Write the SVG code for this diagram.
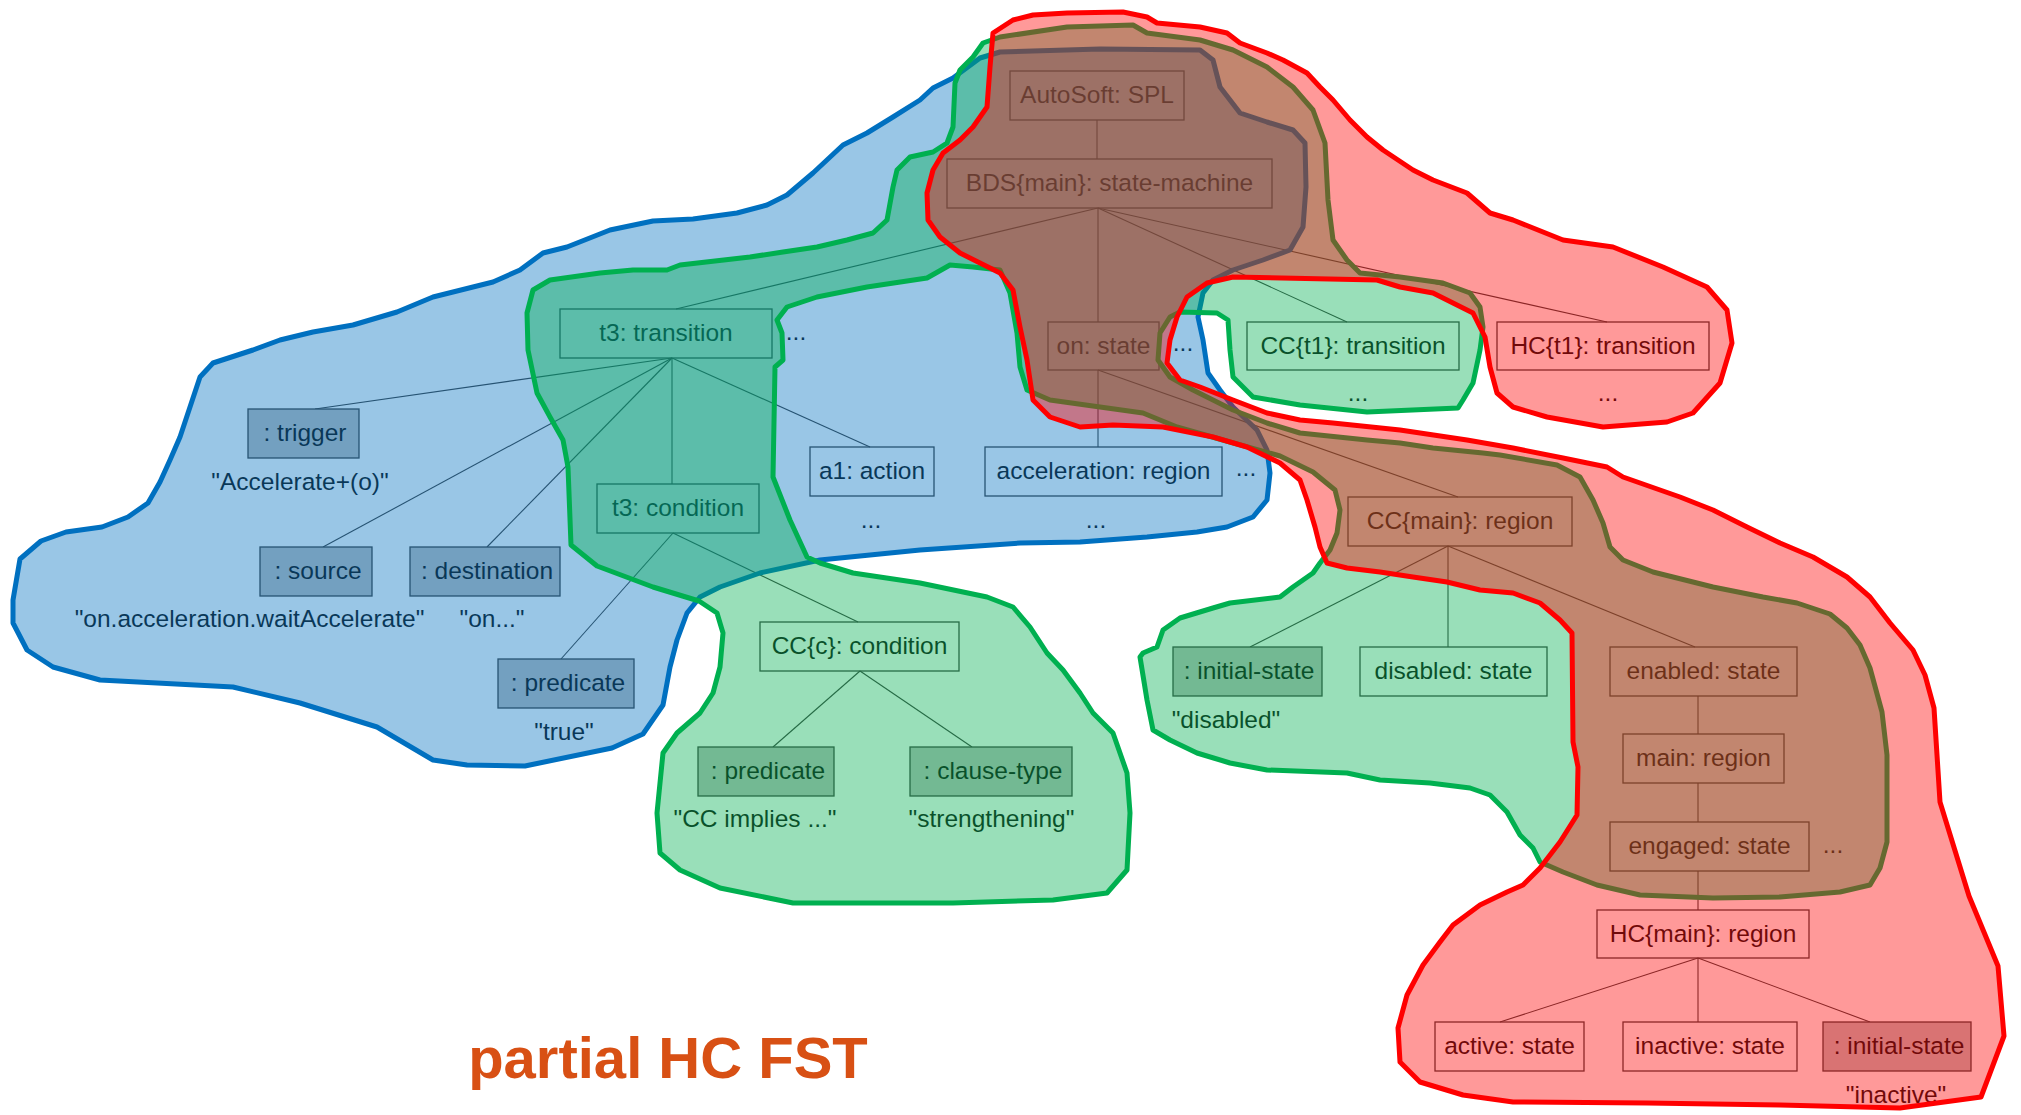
<svg xmlns="http://www.w3.org/2000/svg" width="2021" height="1115" viewBox="0 0 2021 1115">
  <style>
    .box { fill: none; stroke: #404040; stroke-width: 1.3; }
    .attr { fill: #c0c0c0; stroke: #404040; stroke-width: 1.3; }
    .t { font-family: "Liberation Sans", Arial, sans-serif; font-size: 24.5px; fill: #111; text-anchor: middle; }
    .edge { stroke: #404040; stroke-width: 1.1; fill: none; }
    .blob { fill-opacity: 0.4; stroke-width: 5; stroke-linejoin: round; stroke-linecap: round; }
    .blue { fill: #0070c0; stroke: #0070c0; }
    .green { fill: #00b050; stroke: #00b050; }
    .red { fill: #ff0000; stroke: #ff0000; }
    .title { font-family: "Liberation Sans", Arial, sans-serif; font-size: 58px; font-weight: bold; fill: #d85014; text-anchor: middle; }
  </style>

  <rect width="2021" height="1115" fill="#ffffff"/>

  <!-- tree edges -->
  <g id="connectors">
    <line class="edge" x1="1097" y1="120" x2="1097" y2="159"/>
    <line class="edge" x1="1098" y1="208" x2="676" y2="309"/>
    <line class="edge" x1="1098" y1="208" x2="1098" y2="322"/>
    <line class="edge" x1="1098" y1="208" x2="1347" y2="322"/>
    <line class="edge" x1="1098" y1="208" x2="1607" y2="322"/>
    <line class="edge" x1="672" y1="358" x2="315" y2="409"/>
    <line class="edge" x1="672" y1="358" x2="323" y2="547"/>
    <line class="edge" x1="672" y1="358" x2="487" y2="547"/>
    <line class="edge" x1="672" y1="358" x2="672" y2="484"/>
    <line class="edge" x1="672" y1="358" x2="870" y2="447"/>
    <line class="edge" x1="673" y1="533" x2="561" y2="659"/>
    <line class="edge" x1="673" y1="533" x2="858" y2="622"/>
    <line class="edge" x1="860" y1="671" x2="773" y2="747"/>
    <line class="edge" x1="860" y1="671" x2="972" y2="747"/>
    <line class="edge" x1="1098" y1="370" x2="1098" y2="447"/>
    <line class="edge" x1="1098" y1="370" x2="1458" y2="497"/>
    <line class="edge" x1="1448" y1="546" x2="1250" y2="647"/>
    <line class="edge" x1="1448" y1="546" x2="1448" y2="647"/>
    <line class="edge" x1="1448" y1="546" x2="1695" y2="647"/>
    <line class="edge" x1="1698" y1="696" x2="1698" y2="734"/>
    <line class="edge" x1="1698" y1="783" x2="1698" y2="822"/>
    <line class="edge" x1="1698" y1="871" x2="1698" y2="910"/>
    <line class="edge" x1="1698" y1="958" x2="1500" y2="1022"/>
    <line class="edge" x1="1698" y1="958" x2="1698" y2="1022"/>
    <line class="edge" x1="1698" y1="958" x2="1870" y2="1022"/>
  </g>

  <!-- tree nodes -->
  <g id="n-autosoft"><rect class="box" x="1010" y="71" width="174" height="49"/><text class="t" x="1097" y="103">AutoSoft: SPL</text></g>
  <g id="n-bds"><rect class="box" x="947" y="159" width="325" height="49"/><text class="t" x="1109.5" y="191">BDS{main}: state-machine</text></g>
  <g id="n-t3"><rect class="box" x="560" y="309" width="212" height="49"/><text class="t" x="666" y="341">t3: transition</text><text class="t" x="796" y="340">...</text></g>
  <g id="n-on"><rect class="box" x="1048" y="322" width="111" height="48"/><text class="t" x="1103.5" y="354">on: state</text><text class="t" x="1183" y="351">...</text></g>
  <g id="n-cct1"><rect class="box" x="1247" y="322" width="212" height="48"/><text class="t" x="1353" y="354">CC{t1}: transition</text><text class="t" x="1358" y="401">...</text></g>
  <g id="n-hct1"><rect class="box" x="1497" y="322" width="212" height="48"/><text class="t" x="1603" y="354">HC{t1}: transition</text><text class="t" x="1608" y="401">...</text></g>
  <g id="n-trigger"><rect class="attr" x="248" y="409" width="111" height="49"/><text class="t" x="305" y="441">: trigger</text><text class="t" x="300" y="490">"Accelerate+(o)"</text></g>
  <g id="n-source"><rect class="attr" x="260" y="547" width="112" height="49"/><text class="t" x="318" y="579">: source</text><text class="t" x="249.5" y="627">"on.acceleration.waitAccelerate"</text></g>
  <g id="n-destination"><rect class="attr" x="410" y="547" width="150" height="49"/><text class="t" x="487" y="579">: destination</text><text class="t" x="492" y="627">"on..."</text></g>
  <g id="n-t3cond"><rect class="box" x="597" y="484" width="162" height="49"/><text class="t" x="678" y="516">t3: condition</text></g>
  <g id="n-predicate1"><rect class="attr" x="498" y="659" width="136" height="49"/><text class="t" x="568" y="691">: predicate</text><text class="t" x="564" y="740">"true"</text></g>
  <g id="n-a1"><rect class="box" x="810" y="447" width="124" height="49"/><text class="t" x="872" y="479">a1: action</text><text class="t" x="871" y="528">...</text></g>
  <g id="n-accel"><rect class="box" x="985" y="447" width="237" height="49"/><text class="t" x="1103.5" y="479">acceleration: region</text><text class="t" x="1096" y="528">...</text><text class="t" x="1246" y="476">...</text></g>
  <g id="n-ccc"><rect class="box" x="760" y="622" width="199" height="49"/><text class="t" x="859.5" y="654">CC{c}: condition</text></g>
  <g id="n-predicate2"><rect class="attr" x="698" y="747" width="136" height="49"/><text class="t" x="768" y="779">: predicate</text><text class="t" x="755" y="827">"CC implies ..."</text></g>
  <g id="n-clause"><rect class="attr" x="910" y="747" width="162" height="49"/><text class="t" x="993" y="779">: clause-type</text><text class="t" x="991.5" y="827">"strengthening"</text></g>
  <g id="n-ccmain"><rect class="box" x="1348" y="497" width="224" height="49"/><text class="t" x="1460" y="529">CC{main}: region</text></g>
  <g id="n-init1"><rect class="attr" x="1173" y="647" width="149" height="49"/><text class="t" x="1249" y="679">: initial-state</text><text class="t" x="1226" y="728">"disabled"</text></g>
  <g id="n-disabled"><rect class="box" x="1360" y="647" width="187" height="49"/><text class="t" x="1453.5" y="679">disabled: state</text></g>
  <g id="n-enabled"><rect class="box" x="1610" y="647" width="187" height="49"/><text class="t" x="1703.5" y="679">enabled: state</text></g>
  <g id="n-main"><rect class="box" x="1623" y="734" width="161" height="49"/><text class="t" x="1703.5" y="766">main: region</text></g>
  <g id="n-engaged"><rect class="box" x="1610" y="822" width="199" height="49"/><text class="t" x="1709.5" y="854">engaged: state</text><text class="t" x="1833" y="853">...</text></g>
  <g id="n-hcmain"><rect class="box" x="1597" y="910" width="212" height="48"/><text class="t" x="1703" y="942">HC{main}: region</text></g>
  <g id="n-active"><rect class="box" x="1435" y="1022" width="149" height="49"/><text class="t" x="1509.5" y="1054">active: state</text></g>
  <g id="n-inactive"><rect class="box" x="1623" y="1022" width="174" height="49"/><text class="t" x="1710" y="1054">inactive: state</text></g>
  <g id="n-init2"><rect class="attr" x="1823" y="1022" width="148" height="49"/><text class="t" x="1899" y="1054">: initial-state</text><text class="t" x="1896" y="1103">"inactive"</text></g>

  <!-- translucent feature regions -->
  <g id="regions">
    <path id="region-blue" class="blob blue" d="M13,600 L20,559 L41,541 L66,532 L102,527 L128,517 L148,503 L160,482 L170,460 L180,437 L189,410 L200,377 L213,363 L253,350 L280,340 L313,332 L353,325 L397,312 L433,297 L493,282 L520,270 L543,253 L567,247 L610,230 L653,221 L693,219 L737,213 L767,205 L787,195 L813,173 L843,145 L867,133 L893,117 L920,100 L933,88 L953,78 L980,58 L1000,52 L1100,49 L1200,50 L1213,60 L1220,87 L1240,113 L1267,122 L1293,130 L1305,143 L1306,187 L1303,227 L1290,250 L1263,260 L1233,270 L1213,280 L1203,293 L1198,317 L1203,340 L1208,373 L1220,390 L1233,407 L1257,430 L1267,450 L1270,473 L1267,500 L1253,517 L1227,527 L1197,532 L1147,537 L1080,542 L1020,543 L920,550 L820,560 L760,573 L720,587 L700,597 L687,613 L677,640 L670,667 L663,705 L643,734 L612,748 L525,766 L467,765 L433,760 L377,727 L300,703 L233,687 L100,680 L53,667 L27,650 L13,623 Z"/>
    <path id="region-green" class="blob green" d="M983,43 L1000,37 L1067,27 L1133,25 L1147,33 L1200,40 L1233,50 L1267,67 L1293,87 L1313,110 L1325,143 L1328,200 L1333,240 L1347,260 L1360,273 L1400,277 L1443,283 L1470,293 L1480,307 L1483,327 L1480,350 L1473,383 L1463,400 L1458,408 L1367,412 L1300,405 L1253,397 L1233,377 L1230,350 L1228,320 L1217,313 L1180,312 L1170,317 L1160,333 L1158,360 L1170,377 L1193,390 L1233,410 L1267,423 L1300,433 L1367,440 L1400,443 L1433,448 L1483,453 L1500,455 L1557,465 L1580,477 L1593,500 L1603,523 L1610,547 L1623,560 L1653,572 L1713,587 L1763,597 L1797,603 L1830,614 L1847,628 L1860,645 L1870,668 L1882,712 L1887,755 L1887,842 L1880,868 L1870,885 L1840,892 L1780,897 L1713,898 L1640,895 L1597,885 L1563,872 L1540,862 L1533,848 L1520,835 L1507,812 L1490,795 L1470,788 L1430,783 L1380,780 L1347,773 L1267,770 L1230,763 L1197,753 L1170,740 L1153,730 L1147,700 L1140,657 L1143,653 L1157,647 L1163,630 L1180,618 L1213,608 L1230,603 L1280,597 L1293,587 L1313,573 L1320,563 L1330,550 L1337,533 L1340,510 L1335,490 L1313,472 L1280,456 L1230,442 L1177,427 L1143,413 L1100,407 L1050,400 L1027,390 L1020,367 L1017,333 L1010,293 L1000,270 L973,267 L950,265 L927,278 L867,287 L817,297 L787,307 L777,320 L782,333 L783,360 L775,367 L773,477 L790,520 L807,557 L820,563 L853,573 L920,583 L987,597 L1013,607 L1030,627 L1047,653 L1063,670 L1080,693 L1093,713 L1113,733 L1127,773 L1130,813 L1127,870 L1107,893 L1053,900 L953,903 L793,903 L720,888 L680,870 L660,853 L657,813 L663,753 L677,733 L700,713 L713,693 L720,667 L723,633 L717,613 L699,601 L653,587 L597,566 L571,545 L568,467 L563,440 L550,417 L537,393 L528,350 L527,313 L533,290 L550,280 L600,273 L633,270 L667,270 L680,265 L750,257 L783,252 L817,247 L847,240 L873,233 L887,220 L893,187 L897,170 L910,157 L933,152 L947,143 L953,127 L955,83 L960,70 L973,57 Z"/>
    <path id="region-red" class="blob red" d="M993,33 L1013,20 L1033,15 L1067,13 L1123,12 L1147,17 L1157,23 L1200,27 L1227,33 L1240,43 L1267,53 L1283,60 L1307,73 L1320,87 L1333,100 L1350,120 L1367,137 L1383,150 L1413,170 L1433,180 L1467,193 L1490,213 L1513,220 L1563,240 L1613,247 L1663,267 L1707,287 L1727,310 L1732,343 L1720,383 L1693,413 L1667,422 L1603,427 L1547,417 L1513,407 L1497,393 L1490,367 L1485,337 L1480,327 L1473,313 L1433,293 L1400,287 L1377,280 L1233,277 L1207,283 L1187,297 L1177,317 L1170,340 L1167,363 L1180,380 L1200,387 L1233,400 L1267,413 L1300,420 L1333,423 L1400,430 L1467,440 L1513,448 L1563,458 L1607,467 L1623,477 L1680,497 L1713,510 L1747,527 L1780,543 L1813,557 L1847,577 L1870,597 L1890,623 L1913,650 L1925,675 L1934,708 L1940,802 L1969,896 L1998,966 L2004,1036 L1981,1097 L1900,1108 L1780,1105 L1647,1103 L1513,1102 L1463,1095 L1420,1082 L1400,1062 L1398,1028 L1407,995 L1423,965 L1440,942 L1453,925 L1480,905 L1507,892 L1523,885 L1540,868 L1560,842 L1577,815 L1578,767 L1573,742 L1572,633 L1560,620 L1540,603 L1513,593 L1480,590 L1447,582 L1413,577 L1380,572 L1347,568 L1327,563 L1320,547 L1315,527 L1307,500 L1300,480 L1280,463 L1247,447 L1213,437 L1163,427 L1113,425 L1080,427 L1050,417 L1033,400 L1027,360 L1020,327 L1013,290 L1000,273 L980,263 L960,253 L940,237 L928,220 L927,193 L933,170 L943,153 L960,140 L973,127 L987,107 L990,67 Z"/>
  </g>

  <text id="caption" class="title" x="668" y="1078">partial HC FST</text>
</svg>
